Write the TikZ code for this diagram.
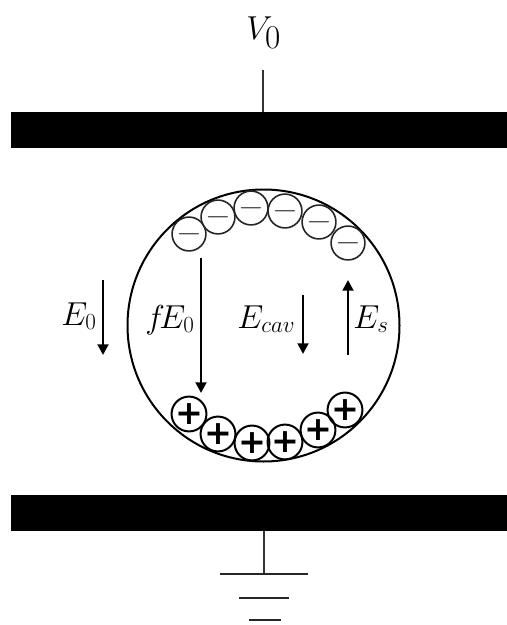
\documentclass[tikz,border=0pt]{standalone}
\usepackage{amsmath,amssymb}
\usepackage{fontspec}
\newfontfamily\plusfont{DejaVu Sans}
\DeclareMathSizes{24}{24}{18}{14}
\DeclareMathSizes{32}{32}{23}{16}
\usetikzlibrary{arrows.meta, positioning}
\tikzset{
  plate/.style={draw=none, fill=black, minimum width=372pt, minimum height=27pt,
                inner sep=0pt, outer sep=0pt},
  cavity/.style={draw=black, circle, line width=1.5pt, fill=none,
                 minimum size=204pt, inner sep=0pt, outer sep=0pt},
  negq/.style={draw=black!85, circle, line width=1.2pt, minimum size=25pt,
              inner sep=0pt, text=black!70, font=\fontsize{24}{24}\selectfont},
  posq/.style={draw=black, circle, line width=1.5pt, minimum size=25pt,
              inner sep=0pt, font=\fontsize{25}{25}\plusfont\bfseries},
  lab/.style={inner sep=0pt, anchor=base west, font=\fontsize{24}{28}\selectfont},
  wire/.style={line width=1.2pt, black!80},
  gnd/.style={line width=1.5pt, black!85},
  fld/.style={-{Triangle[width=8pt,length=8pt]}, line width=2.2pt},
}
\begin{document}
\begin{tikzpicture}[x=0.75pt, y=-0.75pt]
  \useasboundingbox (0,0) rectangle (507,625);

  % Plates
  \node[plate] (top) at (259,130) {};
  \node[plate] (bot) at (259,512.5) {};

  % Supply and ground
  \node[lab, font=\fontsize{32}{36}\selectfont] (v0) at (246,39) {$V_0$};
  \coordinate (vin) at (263,70);
  \draw[wire] (vin) -- (vin |- top.north);

  \coordinate (g1l) at (220,574);
  \coordinate (g1m) at (264,574);
  \coordinate (g1r) at (308,574);
  \coordinate (g2l) at (239,598);
  \coordinate (g2r) at (289,598);
  \coordinate (g3l) at (249,620);
  \coordinate (g3r) at (281,620);
  \draw[wire] (g1m) -- (g1m |- bot.south);
  \draw[gnd] (g1l) -- (g1r);
  \draw[gnd] (g2l) -- (g2r);
  \draw[gnd] (g3l) -- (g3r);

  % Cavity
  \node[cavity] (cav) at (263.5,325.5) {};

  % Negative charges
  \node[negq] (n1) at (189,234) {$-$};
  \node[negq] (n2) at (218,217) {$-$};
  \node[negq] (n3) at (251,208) {$-$};
  \node[negq] (n4) at (285,211) {$-$};
  \node[negq] (n5) at (319,222) {$-$};
  \node[negq] (n6) at (348,243) {$-$};

  % Positive charges
  \node[posq] (p1) at (189,414) {+};
  \node[posq] (p2) at (218,434) {+};
  \node[posq] (p3) at (252,443) {+};
  \node[posq] (p4) at (285,442) {+};
  \node[posq] (p5) at (318,430) {+};
  \node[posq] (p6) at (345,410) {+};

  % Field arrows
  \coordinate (a0s) at (103,280);
  \coordinate (a0e) at (103,355);
  \draw[fld] (a0s) -- (a0e);
  \coordinate (afs) at (201,258);
  \coordinate (afe) at (201,393);
  \draw[fld] (afs) -- (afe);
  \coordinate (acs) at (303,295);
  \coordinate (ace) at (303,354);
  \draw[fld] (acs) -- (ace);
  \coordinate (ass) at (348,355);
  \coordinate (ase) at (348,280);
  \draw[fld] (ass) -- (ase);

  % Labels
  \node[lab] (le0) at (61,325) {$E_0$};
  \node[lab] (lf) at (145,328) {$f\mkern-3mu E_0$};
  \node[lab] (lc) at (237,328) {$E_{cav}$};
  \node[lab] (ls) at (353,328) {$E_s$};

\end{tikzpicture}
\end{document}
